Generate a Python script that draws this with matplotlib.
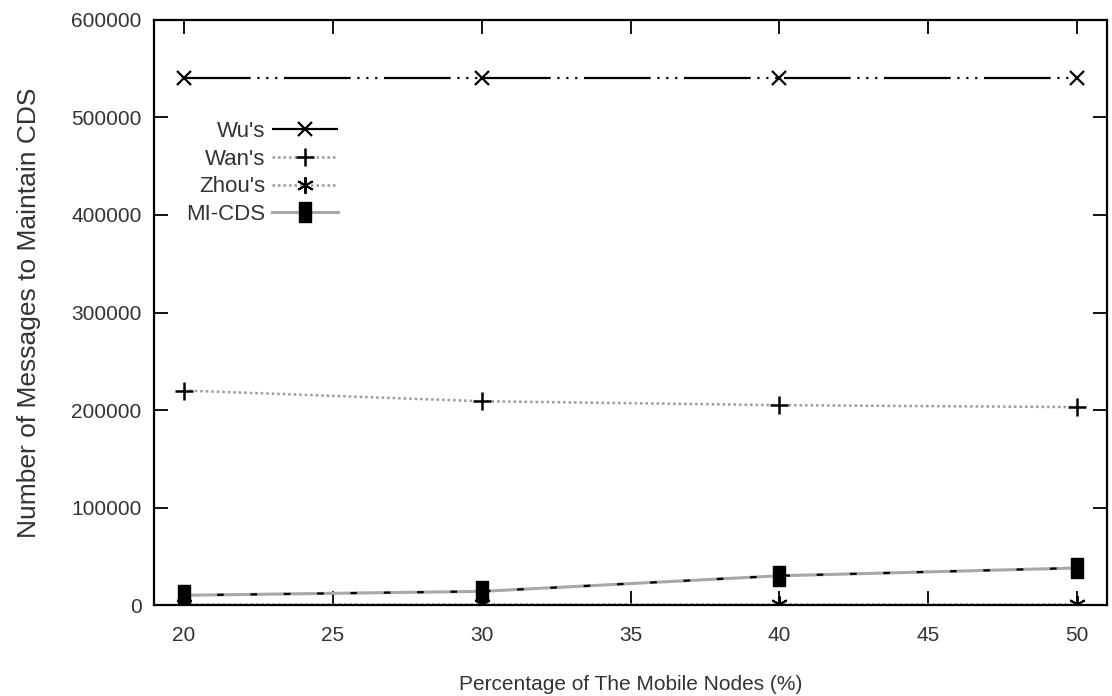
import matplotlib
matplotlib.use("Agg")
import matplotlib.pyplot as plt
from matplotlib.lines import Line2D
from matplotlib.path import Path

plt.rcParams['font.family'] = ['Liberation Sans', 'DejaVu Sans']

# Percentage of mobile nodes
mobile_pct = [20, 30, 40, 50]

# Messages needed to maintain the CDS, per scheme
wu_msgs = [540000, 540000, 540000, 540000]
wan_msgs = [220000, 209000, 205000, 203000]
zhou_msgs = [1000, 1000, 1000, 1000]
micds_msgs = [10000, 14000, 30000, 38000]

series_labels = ["Wu's", "Wan's", "Zhou's", "MI-CDS"]
x_ticks = [20, 25, 30, 35, 40, 45, 50]
y_ticks = [0, 100000, 200000, 300000, 400000, 500000, 600000]

text_col = '#333333'

# tall filled box marker
box = Path([(-0.6, -1), (0.6, -1), (0.6, 1), (-0.6, 1), (-0.6, -1)],
           [Path.MOVETO, Path.LINETO, Path.LINETO, Path.LINETO, Path.CLOSEPOLY])

wu_style = dict(color='black', lw=1.6, linestyle=(0, (30, 3, 1, 3, 1, 3, 1, 3)),
                marker='x', markersize=10, markeredgewidth=1.6)
wan_style = dict(color='#9a9a9a', lw=1.8, linestyle=(0, (1, 1.2)),
                 marker='+', markersize=13, markeredgewidth=1.8, markeredgecolor='black')
zhou_style = dict(color='#9a9a9a', lw=1.8, linestyle=(0, (1, 1.2)),
                  marker=(6, 2, 0), markersize=12, markeredgewidth=1.4,
                  markeredgecolor='black')

fig = plt.figure(figsize=(11.12, 6.96), dpi=100)
ax = fig.add_axes([0.1385, 0.1307, 0.857, 0.8406])

ax.plot(mobile_pct, wu_msgs, **wu_style)
ax.plot(mobile_pct, wan_msgs, **wan_style)
ax.plot(mobile_pct, zhou_msgs, **zhou_style)
# MI-CDS: grey solid line with dark segments and filled boxes
ax.plot(mobile_pct, micds_msgs, color='#a8a8a8', lw=2.2)
ax.plot(mobile_pct, micds_msgs, color='black', lw=1.6, linestyle=(0, (3, 12)),
        marker=box, markersize=15, markerfacecolor='black', markeredgecolor='black')

ax.set_xlim(19, 51)
ax.set_ylim(0, 600000)
ax.set_xticks(x_ticks)
ax.set_yticks(y_ticks)
ax.set_xticklabels([str(v) for v in x_ticks])
ax.set_yticklabels([str(v) for v in y_ticks])

ax.tick_params(direction='in', length=10, width=1.3, top=True, right=True,
               labelsize=15, labelcolor=text_col)
ax.tick_params(axis='x', pad=15)
ax.tick_params(axis='y', pad=9)
for sp in ax.spines.values():
    sp.set_linewidth(1.6)

ax.set_xlabel('Percentage of The Mobile Nodes (%)', fontsize=15,
              color=text_col, labelpad=22)
ax.set_ylabel('Number of Messages to Maintain CDS', fontsize=19,
              color=text_col, labelpad=22)

handles = [
    Line2D([], [], **wu_style),
    Line2D([], [], **wan_style),
    Line2D([], [], **zhou_style),
    Line2D([], [], color='#a8a8a8', lw=2.2, marker=box, markersize=15,
           markerfacecolor='black', markeredgecolor='black'),
]
leg = fig.legend(handles, series_labels, loc='upper left',
                 bbox_to_anchor=(186 / 1112, 1 - 121 / 696),
                 bbox_transform=fig.transFigure, markerfirst=False, frameon=False,
                 fontsize=16, handlelength=3.0, labelspacing=0.3,
                 handletextpad=0.3, borderaxespad=0, borderpad=0)
for t in leg.get_texts():
    t.set_color(text_col)
    t.set_ha('right')

fig.savefig('out.png', dpi=100)
